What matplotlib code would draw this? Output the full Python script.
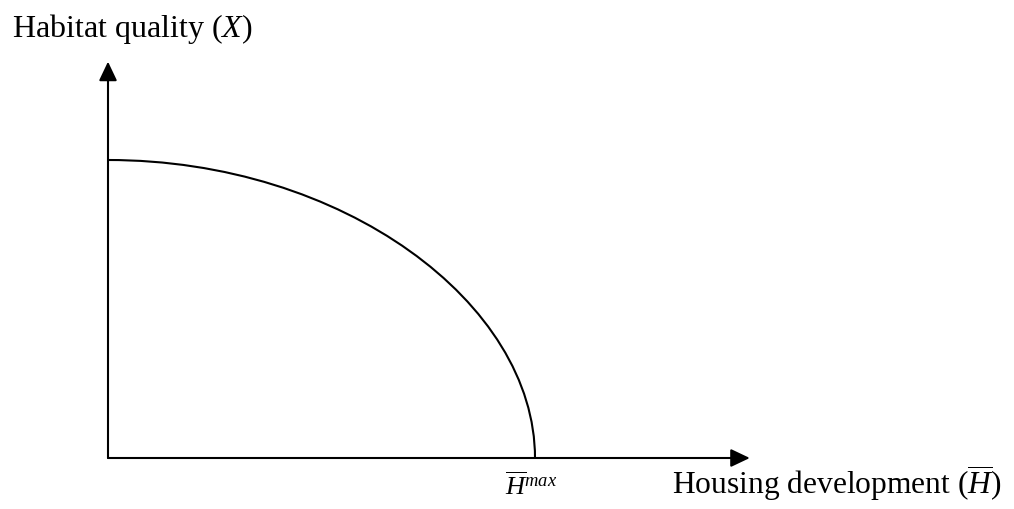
import matplotlib
matplotlib.use("Agg")
import matplotlib.pyplot as plt
from matplotlib.path import Path
from matplotlib.patches import PathPatch

plt.rcParams['font.family'] = ['Liberation Serif', 'DejaVu Serif']
plt.rcParams['mathtext.fontset'] = 'custom'
plt.rcParams['mathtext.rm'] = 'Liberation Serif'
plt.rcParams['mathtext.it'] = 'Liberation Serif:italic'

# frontier: habitat quality falls from x_top to zero at h_max
h_max = 1.0
x_top = 1.0
# bezier handles (fraction of each axis) giving the bowed-out shape
handle_h = 0.55
handle_x = 0.52

# axis extents (arrow tips)
x_axis_end = 1.503
y_axis_end = 1.33

y_label = "Habitat quality ($X$)"
x_label = r"Housing development ($\overline{H}$)"
hmax_label = r"$\overline{H}^{max}$"

W, H = 1014, 509
fig = plt.figure(figsize=(W / 100, H / 100), dpi=100)
ax = fig.add_axes([0, 0, 1, 1])
ax.set_xlim(-108 / 427, (W - 108) / 427)
ax.set_ylim((458 - H) / 298, 458 / 298)
ax.axis('off')

arrow = dict(arrowstyle='-|>,head_length=0.4,head_width=0.19',
             mutation_scale=29, lw=1.5, color='black',
             shrinkA=0, shrinkB=0)
ax.annotate('', xy=(0, y_axis_end), xytext=(0, 0), arrowprops=arrow)
ax.annotate('', xy=(x_axis_end, 0), xytext=(0, 0), arrowprops=arrow)

verts = [(0, x_top),
         (handle_h * h_max, x_top),
         (h_max, handle_x * x_top),
         (h_max, 0)]
codes = [Path.MOVETO, Path.CURVE4, Path.CURVE4, Path.CURVE4]
ax.add_patch(PathPatch(Path(verts, codes), fill=False, lw=1.5,
                       edgecolor='black', capstyle='butt'))

ax.text(12 / W, 1 - 37 / H, y_label, transform=ax.transAxes,
        fontsize=23, va='baseline', ha='left')
ax.text(672 / W, 1 - 494 / H, x_label, transform=ax.transAxes,
        fontsize=22.7, va='baseline', ha='left')
ax.text(505 / W, 1 - 495 / H, hmax_label, transform=ax.transAxes,
        fontsize=19, va='baseline', ha='left')

fig.savefig('out.png', dpi=100)
